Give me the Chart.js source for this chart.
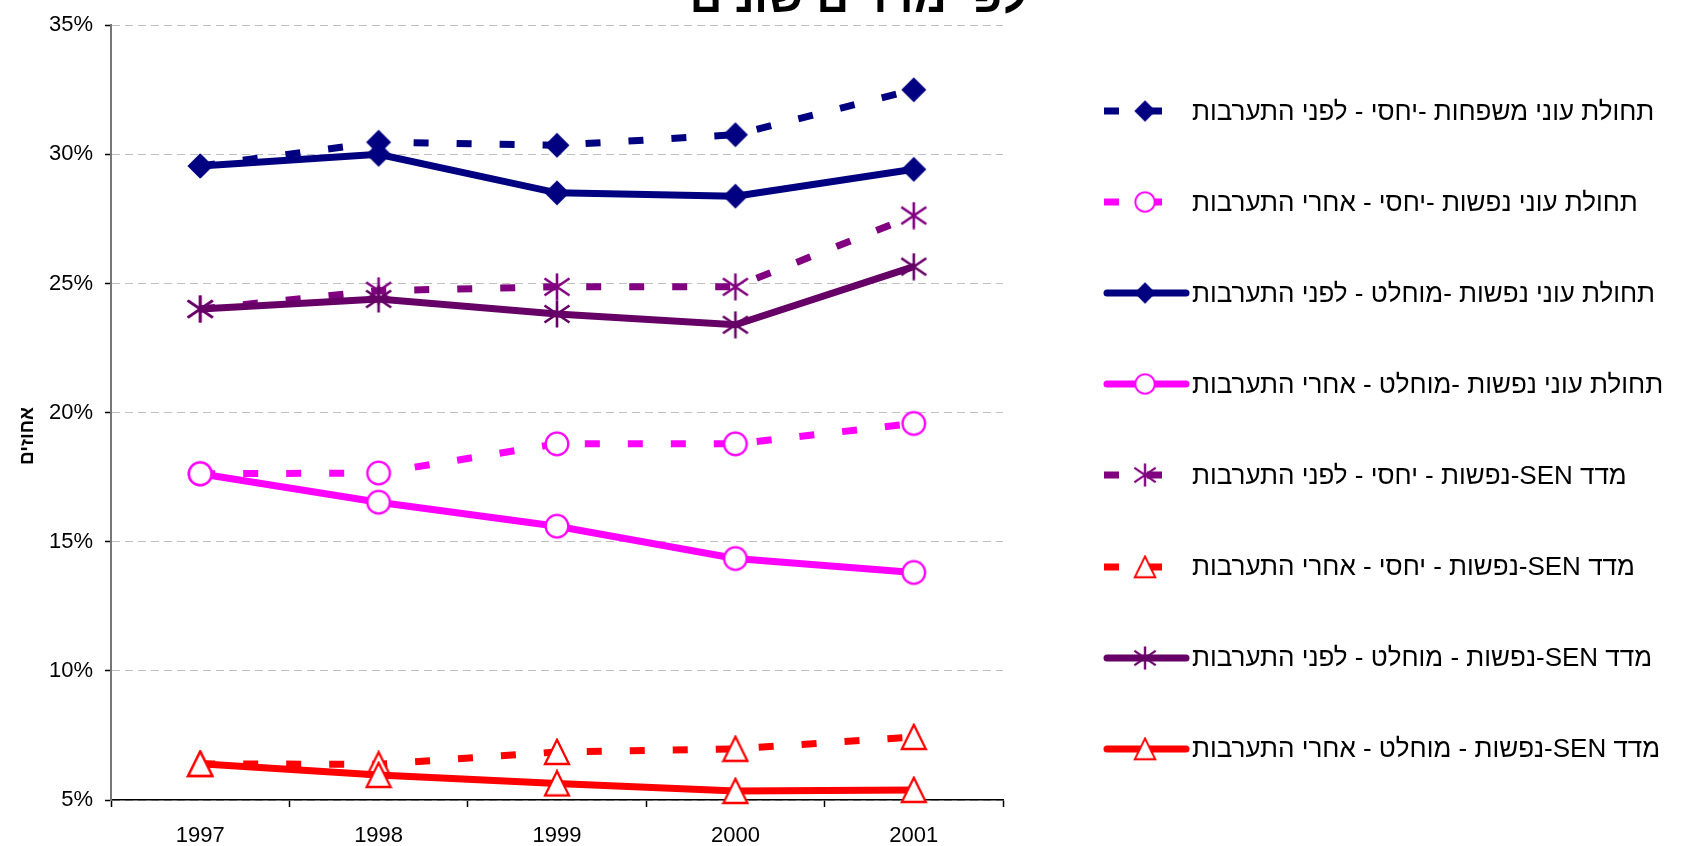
<!DOCTYPE html>
<html lang="he">

<head>
    <meta charset="UTF-8">
    <title>תחולת העוני לפי מדדים שונים</title>
    <script src="https://cdn.jsdelivr.net/npm/chart.js"></script>
    <style>
        body {
            margin: 0;
            background: #fff;
        }

        .container {
            position: relative;
            width: 1695px;
            height: 846px;
            overflow: hidden;
            font-family: "Liberation Sans", Arial, sans-serif;
        }

        #graficoLinhas {
            position: absolute;
            left: 0;
            top: 0;
        }

        .titulo {
            position: absolute;
            right: 668px;
            top: -26px;
            font-size: 45px;
            line-height: 45px;
            font-weight: bold;
            direction: rtl;
            white-space: nowrap;
        }

        .titulo-eixo {
            position: absolute;
            left: 27px;
            top: 436px;
            transform: translate(-50%, -50%) rotate(-90deg);
            font-size: 19px;
            font-weight: bold;
            direction: rtl;
            white-space: nowrap;
        }

        .item-legenda {
            position: absolute;
            left: 1103px;
            height: 30px;
            display: flex;
            align-items: center;
        }

        .item-legenda span {
            direction: rtl;
            unicode-bidi: embed;
            font-size: 26px;
            white-space: nowrap;
            color: #000;
        }
    </style>
</head>

<body>
    <div class="container">
        <canvas id="graficoLinhas" width="1695" height="846"></canvas>
        <div class="titulo">לפי מדדים שונים</div>
        <div class="titulo-eixo">אחוזים</div>
        <div id="legenda"></div>
    </div>

    <script>
        const anos = ['1997', '1998', '1999', '2000', '2001'];

        // valores em %
        const famRelLifnei = [29.55, 30.47, 30.35, 30.76, 32.5];
        const nefRelAcharei = [17.63, 17.66, 18.79, 18.79, 19.58];
        const nefMuchLifnei = [29.55, 30.0, 28.51, 28.38, 29.42];
        const nefMuchAcharei = [17.63, 16.53, 15.6, 14.35, 13.81];
        const senRelLifnei = [24.01, 24.72, 24.87, 24.87, 27.63];
        const senRelAcharei = [6.4, 6.38, 6.86, 6.98, 7.44];
        const senMuchLifnei = [24.01, 24.4, 23.82, 23.4, 25.65];
        const senMuchAcharei = [6.4, 5.97, 5.64, 5.35, 5.39];

        const rotulos = [
            'תחולת עוני משפחות -יחסי - לפני התערבות',
            'תחולת עוני נפשות -יחסי - אחרי התערבות',
            'תחולת עוני נפשות -מוחלט - לפני התערבות',
            'תחולת עוני נפשות -מוחלט - אחרי התערבות',
            'מדד SEN-נפשות - יחסי - לפני התערבות',
            'מדד SEN-נפשות - יחסי - אחרי התערבות',
            'מדד SEN-נפשות - מוחלט - לפני התערבות',
            'מדד SEN-נפשות - מוחלט - אחרי התערבות'
        ];

        const tracejado = [15, 28];

        // desenha cada marcador num canvas pequeno
        function marcador(tipo, cor) {
            const c = document.createElement('canvas');
            c.width = 28;
            c.height = 28;
            const g = c.getContext('2d');
            if (tipo == 'losango') {
                g.fillStyle = cor;
                g.beginPath();
                g.moveTo(14, 1.5); g.lineTo(26.5, 14); g.lineTo(14, 26.5); g.lineTo(1.5, 14);
                g.closePath();
                g.fill();
            } else if (tipo == 'circulo') {
                g.fillStyle = '#fff';
                g.strokeStyle = cor;
                g.lineWidth = 2.3;
                g.beginPath();
                g.arc(14, 14, 11.3, 0, Math.PI * 2);
                g.fill();
                g.stroke();
            } else if (tipo == 'asterisco') {
                g.strokeStyle = cor;
                g.lineWidth = 2.6;
                g.beginPath();
                g.moveTo(14, 0.5); g.lineTo(14, 27.5);
                g.moveTo(1.5, 5.5); g.lineTo(26.5, 22.5);
                g.moveTo(1.5, 22.5); g.lineTo(26.5, 5.5);
                g.stroke();
            } else {
                g.fillStyle = '#fff';
                g.strokeStyle = cor;
                g.lineWidth = 2.3;
                g.beginPath();
                g.moveTo(14, 1.8); g.lineTo(26, 26); g.lineTo(2, 26);
                g.closePath();
                g.fill();
                g.stroke();
            }
            return c;
        }

        const series = [
            { dados: famRelLifnei, cor: '#000080', dash: tracejado, tipo: 'losango' },
            { dados: nefRelAcharei, cor: '#FF00FF', dash: tracejado, tipo: 'circulo' },
            { dados: nefMuchLifnei, cor: '#000080', dash: [], tipo: 'losango' },
            { dados: nefMuchAcharei, cor: '#FF00FF', dash: [], tipo: 'circulo' },
            { dados: senRelLifnei, cor: '#800080', dash: tracejado, tipo: 'asterisco' },
            { dados: senRelAcharei, cor: '#FF0000', dash: tracejado, tipo: 'triangulo' },
            { dados: senMuchLifnei, cor: '#660066', dash: [], tipo: 'asterisco' },
            { dados: senMuchAcharei, cor: '#FF0000', dash: [], tipo: 'triangulo' }
        ];

        let datasets = [];
        for (let i = 0; i < series.length; i++) {
            const s = series[i];
            s.img = marcador(s.tipo, s.cor);
            datasets.push({
                label: rotulos[i],
                data: s.dados,
                borderColor: s.cor,
                backgroundColor: s.cor,
                borderWidth: 7,
                borderDash: s.dash,
                tension: 0,
                pointStyle: s.img,
                pointRadius: 12,
                clip: false,
                order: series.length - i
            });
        }

        Chart.defaults.font.family = '"Liberation Sans", Arial, sans-serif';
        Chart.defaults.color = '#000';

        const config = {
            type: 'line',
            data: { labels: anos, datasets: datasets },
            options: {
                responsive: false,
                animation: false,
                events: [],
                layout: { padding: { top: 22, right: 692, left: 0, bottom: 0 } },
                plugins: {
                    legend: { display: false },
                    tooltip: { enabled: false }
                },
                scales: {
                    x: {
                        offset: true,
                        grid: { offset: true, drawOnChartArea: false, tickLength: 7, tickColor: '#000', tickWidth: 1.5 },
                        border: { color: '#000', width: 1.5 },
                        ticks: { font: { size: 22 }, padding: 16, maxRotation: 0 },
                        afterFit: function (s) { s.height = 46; }
                    },
                    y: {
                        min: 5,
                        max: 35,
                        ticks: {
                            stepSize: 5,
                            font: { size: 22 },
                            padding: 12,
                            callback: function (v) { return v + '%'; }
                        },
                        grid: { color: '#c0c0c0', lineWidth: 1, tickLength: 6, tickColor: '#000', tickWidth: 1.5 },
                        border: { color: '#777', width: 2, dash: [8, 5] },
                        afterFit: function (s) { s.width = 111; }
                    }
                }
            }
        };

        let meuGrafico = new Chart(document.getElementById('graficoLinhas'), config);

        // legenda em html, montada a partir das series
        const legenda = document.getElementById('legenda');
        for (let i = 0; i < series.length; i++) {
            const s = series[i];
            const item = document.createElement('div');
            item.className = 'item-legenda';
            item.style.top = (111 + i * 91.1 - 15) + 'px';

            const amostra = document.createElement('canvas');
            amostra.width = 89;
            amostra.height = 30;
            const g = amostra.getContext('2d');
            g.strokeStyle = s.cor;
            g.lineWidth = 7;
            g.setLineDash(s.dash);
            g.lineCap = s.dash.length ? 'butt' : 'round';
            g.beginPath();
            g.moveTo(s.dash.length ? 1 : 4, 15);
            g.lineTo(s.dash.length ? 61 : 83, 15);
            g.stroke();
            g.drawImage(s.img, 42 - 12, 15 - 12, 24, 24);

            const texto = document.createElement('span');
            texto.textContent = rotulos[i];

            item.appendChild(amostra);
            item.appendChild(texto);
            legenda.appendChild(item);
        }
    </script>
</body>

</html>
